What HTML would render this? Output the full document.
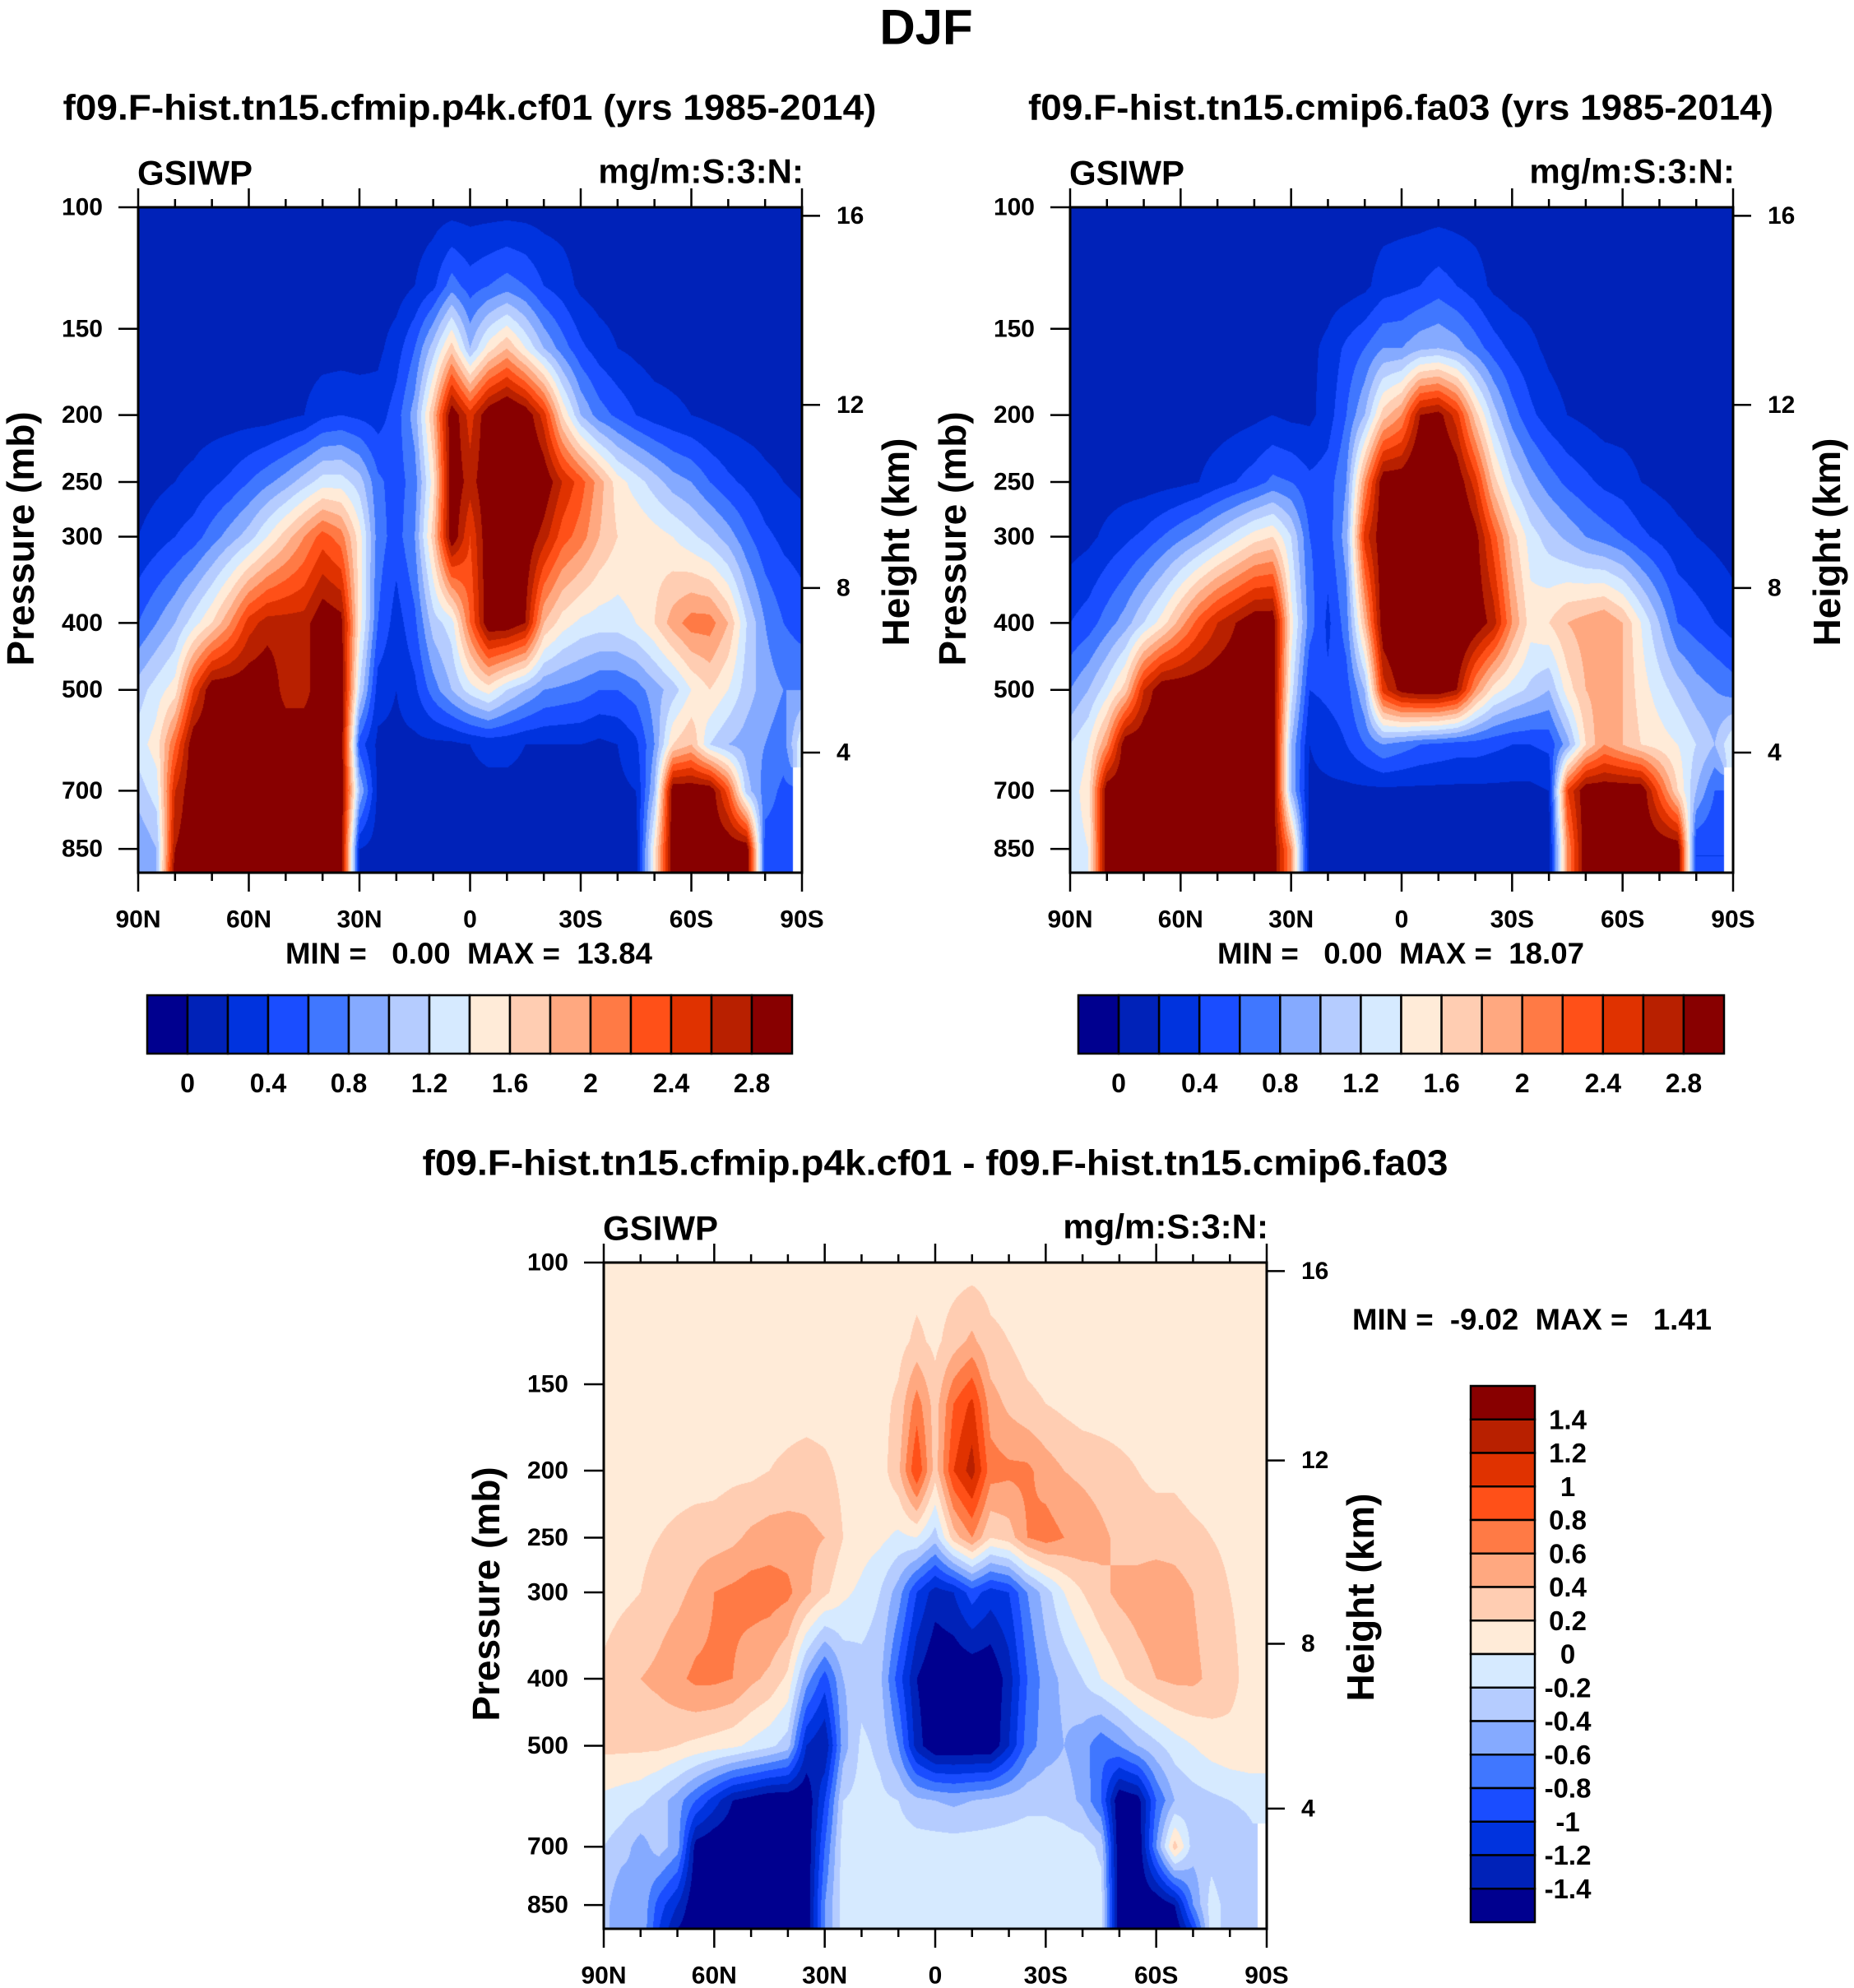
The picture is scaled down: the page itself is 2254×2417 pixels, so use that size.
<!DOCTYPE html>
<html><head><meta charset="utf-8"><title>DJF GSIWP</title>
<style>
html,body{margin:0;padding:0;background:#fff;}
#wrap{position:relative;width:2254px;height:2417px;overflow:hidden;background:#fff;}
canvas{position:absolute;}
svg{position:absolute;left:0;top:0;}
text{font-family:"Liberation Sans",Arial,sans-serif;font-weight:bold;fill:#000;white-space:pre;}
</style></head>
<body>
<div id="wrap">
<canvas id="c1" style="left:168px;top:252px" width="807" height="809"></canvas>
<canvas id="c2" style="left:1301px;top:252px" width="806" height="809"></canvas>
<canvas id="c3" style="left:734px;top:1535px" width="806" height="810"></canvas>
<svg id="ov" width="2254" height="2417"></svg>
</div>
<script>
// ---- data ----
const lats = [90,85,80,75,70,65,60,55,50,45,40,35,30,25,20,15,10,5,0,-5,-10,-15,-20,-25,-30,-35,-40,-45,-50,-55,-60,-65,-70,-75,-80,-85,-90];
const levels = [100,130,160,200,250,300,400,500,600,700,850,920];
const mainTicks = ["0","0.4","0.8","1.2","1.6","2","2.4","2.8"];
const diffTicks = ["1.4","1.2","1","0.8","0.6","0.4","0.2","0","-0.2","-0.4","-0.6","-0.8","-1","-1.2","-1.4"];
const latLabels = ["90N","60N","30N","0","30S","60S","90S"];
const presLabels = [100,150,200,250,300,400,500,700,850];
const heightLabels = [16,12,8,4];

const p1 = [
[0.1,0.1,0.1,0.1,0.1,0.1,0.1,0.1,0.1,0.1,0.1,0.1,0.1,0.1,0.1,0.1,0.1,0.1,0.1,0.1,0.1,0.1,0.1,0.1,0.1,0.1,0.1,0.1,0.1,0.1,0.1,0.1,0.1,0.1,0.1,0.1,0.1],
[0.1,0.1,0.1,0.1,0.1,0.1,0.1,0.1,0.1,0.1,0.1,0.1,0.1,0.1,0.1,0.2,0.35,0.7,0.5,0.6,0.7,0.6,0.4,0.3,0.15,0.1,0.1,0.1,0.1,0.1,0.1,0.1,0.1,0.1,0.1,0.1,0.1],
[0.1,0.1,0.1,0.1,0.1,0.1,0.1,0.1,0.1,0.1,0.1,0.1,0.1,0.15,0.3,0.6,1.1,1.7,1.0,1.5,1.8,1.4,1.0,0.7,0.45,0.3,0.2,0.15,0.1,0.1,0.1,0.1,0.1,0.1,0.1,0.1,0.1],
[0.1,0.1,0.1,0.1,0.1,0.1,0.1,0.1,0.15,0.2,0.35,0.4,0.35,0.3,0.5,0.9,1.8,3.0,2.5,3.0,3.2,3.0,2.5,1.6,1.0,0.7,0.55,0.4,0.3,0.25,0.2,0.15,0.12,0.1,0.1,0.1,0.1],
[0.1,0.15,0.2,0.25,0.35,0.45,0.6,0.75,0.9,1.1,1.3,1.3,1.1,0.65,0.5,0.7,1.5,3.0,2.7,3.0,3.2,3.2,3.0,2.6,2.3,1.9,1.5,1.3,1.1,0.9,0.8,0.6,0.45,0.35,0.25,0.2,0.15],
[0.2,0.3,0.4,0.5,0.7,0.9,1.1,1.4,1.7,2.0,2.3,2.1,1.5,0.7,0.5,0.8,1.7,3.0,2.4,3.0,3.2,3.0,2.7,2.3,2.1,1.8,1.6,1.6,1.5,1.4,1.25,1.1,0.9,0.65,0.45,0.35,0.3],
[0.6,0.8,1.0,1.3,1.6,2.0,2.5,2.7,2.7,2.7,3.0,2.9,1.5,0.6,0.3,0.55,1.1,1.3,2.2,3.0,3.0,2.8,1.8,1.5,1.35,1.3,1.3,1.4,1.6,1.9,2.1,2.1,1.8,1.2,0.8,0.6,0.5],
[1.1,1.3,1.5,2.4,3.0,3.0,3.0,3.0,2.7,2.7,3.0,3.0,1.2,0.3,0.2,0.35,0.7,1.0,1.3,1.5,1.2,1.0,0.8,0.75,0.7,0.6,0.6,0.7,0.9,1.1,1.4,1.6,1.4,1.1,0.9,0.8,0.8],
[1.3,1.5,2.2,3.0,3.0,3.0,3.0,3.0,3.0,3.0,3.0,3.0,0.5,0.15,0.15,0.15,0.15,0.15,0.2,0.25,0.25,0.2,0.2,0.2,0.2,0.15,0.2,0.35,0.8,1.6,1.8,1.2,1.0,0.9,0.8,0.7,1.4],
[1.1,1.3,2.6,3.0,3.0,3.0,3.0,3.0,3.0,3.0,3.0,3.0,1.0,0.15,0.15,0.15,0.15,0.15,0.15,0.15,0.15,0.15,0.15,0.15,0.15,0.15,0.15,0.2,1.0,3.0,3.0,3.0,2.3,1.1,0.7,0.55,null],
[0.8,1.0,2.8,3.0,3.0,3.0,3.0,3.0,3.0,3.0,3.0,3.0,0.2,0.1,0.1,0.1,0.1,0.1,0.1,0.1,0.1,0.1,0.1,0.1,0.1,0.1,0.1,0.1,1.5,3.0,3.0,3.0,3.0,3.0,0.5,0.5,null],
[0.8,1.0,3.0,3.0,3.0,3.0,3.0,3.0,3.0,3.0,3.0,3.0,0.2,0.1,0.1,0.1,0.1,0.1,0.1,0.1,0.1,0.1,0.1,0.1,0.1,0.1,0.1,0.1,1.5,3.0,3.0,3.0,3.0,3.0,0.5,0.5,null]
];
const p2 = [
[0.1,0.1,0.1,0.1,0.1,0.1,0.1,0.1,0.1,0.1,0.1,0.1,0.1,0.1,0.1,0.1,0.1,0.1,0.1,0.1,0.1,0.1,0.1,0.1,0.1,0.1,0.1,0.1,0.1,0.1,0.1,0.1,0.1,0.1,0.1,0.1,0.1],
[0.1,0.1,0.1,0.1,0.1,0.1,0.1,0.1,0.1,0.1,0.1,0.1,0.1,0.1,0.1,0.1,0.15,0.3,0.35,0.4,0.5,0.4,0.3,0.15,0.1,0.1,0.1,0.1,0.1,0.1,0.1,0.1,0.1,0.1,0.1,0.1,0.1],
[0.1,0.1,0.1,0.1,0.1,0.1,0.1,0.1,0.1,0.1,0.1,0.1,0.1,0.15,0.25,0.45,0.6,0.8,0.8,0.95,1.0,0.9,0.7,0.5,0.35,0.25,0.15,0.1,0.1,0.1,0.1,0.1,0.1,0.1,0.1,0.1,0.1],
[0.1,0.1,0.1,0.1,0.1,0.1,0.1,0.1,0.1,0.12,0.15,0.2,0.15,0.15,0.3,0.6,1.0,1.7,2.0,2.8,2.9,2.5,1.7,1.1,0.7,0.45,0.3,0.2,0.15,0.1,0.1,0.1,0.1,0.1,0.1,0.1,0.1],
[0.1,0.1,0.1,0.1,0.1,0.12,0.15,0.2,0.3,0.4,0.5,0.65,0.6,0.45,0.5,0.8,2.0,3.0,3.0,3.2,3.2,3.0,2.5,1.7,1.2,0.9,0.7,0.55,0.45,0.35,0.3,0.2,0.15,0.12,0.1,0.1,0.1],
[0.1,0.15,0.25,0.35,0.45,0.6,0.75,0.9,1.1,1.3,1.5,1.6,1.2,0.6,0.5,0.9,2.5,3.0,3.2,3.2,3.2,3.2,2.9,2.3,1.7,1.3,1.1,0.95,0.8,0.7,0.6,0.45,0.35,0.25,0.2,0.15,0.1],
[0.4,0.5,0.7,0.9,1.2,1.5,1.9,2.3,2.6,2.8,3.0,3.0,1.5,0.7,0.35,0.7,1.8,3.0,3.2,3.2,3.2,3.2,3.0,2.7,2.0,1.5,1.6,1.8,1.9,2.0,1.8,1.4,1.0,0.6,0.5,0.4,0.3],
[0.8,1.0,1.3,1.7,2.6,3.0,3.0,3.0,3.0,3.0,3.0,3.0,1.3,0.4,0.45,0.5,1.0,2.5,2.9,3.0,3.0,2.8,2.0,1.5,1.3,1.15,1.0,1.5,1.8,1.9,1.8,1.5,1.3,1.1,0.9,0.8,0.7],
[1.2,1.4,2.0,3.0,3.0,3.0,3.0,3.0,3.0,3.0,3.0,3.0,1.0,0.2,0.3,0.4,0.6,0.8,0.7,0.6,0.55,0.5,0.5,0.45,0.4,0.4,0.45,0.9,1.6,2.0,1.8,1.6,1.5,1.4,1.2,1.0,1.4],
[1.3,1.5,3.0,3.0,3.0,3.0,3.0,3.0,3.0,3.0,3.0,3.0,1.0,0.15,0.15,0.15,0.15,0.15,0.15,0.15,0.15,0.15,0.15,0.15,0.15,0.15,0.2,2.4,3.0,3.0,3.0,3.0,2.3,1.6,1.0,0.6,null],
[1.3,1.4,3.0,3.0,3.0,3.0,3.0,3.0,3.0,3.0,3.0,3.0,2.0,0.1,0.1,0.1,0.1,0.1,0.1,0.1,0.1,0.1,0.1,0.1,0.1,0.1,0.1,2.0,3.0,3.0,3.0,3.0,3.0,3.0,0.4,0.4,null],
[1.3,1.4,3.0,3.0,3.0,3.0,3.0,3.0,3.0,3.0,3.0,3.0,2.0,0.1,0.1,0.1,0.1,0.1,0.1,0.1,0.1,0.1,0.1,0.1,0.1,0.1,0.1,2.0,3.0,3.0,3.0,3.0,3.0,3.0,0.4,0.4,null]
];
const dif = [
[0.1,0.1,0.1,0.1,0.1,0.1,0.1,0.1,0.1,0.1,0.1,0.1,0.1,0.1,0.1,0.1,0.1,0.1,0.1,0.1,0.1,0.1,0.1,0.1,0.1,0.1,0.1,0.1,0.1,0.1,0.1,0.1,0.1,0.1,0.1,0.1,0.1],
[0.1,0.1,0.1,0.1,0.1,0.1,0.1,0.1,0.1,0.1,0.1,0.1,0.1,0.1,0.1,0.1,0.12,0.25,0.15,0.3,0.45,0.25,0.2,0.12,0.1,0.1,0.1,0.1,0.1,0.1,0.1,0.1,0.1,0.1,0.1,0.1,0.1],
[0.1,0.1,0.1,0.1,0.1,0.1,0.1,0.1,0.1,0.1,0.1,0.1,0.1,0.1,0.1,0.12,0.25,0.7,0.3,0.8,1.05,0.5,0.35,0.25,0.2,0.15,0.1,0.1,0.1,0.1,0.1,0.1,0.1,0.1,0.1,0.1,0.1],
[0.1,0.1,0.1,0.1,0.1,0.1,0.12,0.15,0.15,0.2,0.25,0.3,0.25,0.15,0.1,0.1,0.35,1.0,0.3,1.0,1.3,0.7,0.65,0.65,0.5,0.4,0.35,0.3,0.25,0.2,0.15,0.15,0.1,0.1,0.1,0.1,0.1],
[0.1,0.1,0.15,0.2,0.25,0.3,0.3,0.35,0.45,0.5,0.5,0.45,0.4,0.2,0.1,0.05,-0.05,0.0,-0.3,0.3,0.6,0.2,0.3,0.6,0.7,0.6,0.55,0.45,0.35,0.3,0.3,0.3,0.25,0.2,0.15,0.1,0.1],
[0.1,0.15,0.2,0.3,0.35,0.45,0.6,0.65,0.7,0.7,0.65,0.45,0.25,0.05,-0.05,-0.2,-0.5,-1.0,-1.3,-1.2,-0.9,-1.1,-1.0,-0.6,-0.3,0.0,0.2,0.35,0.45,0.5,0.55,0.5,0.4,0.3,0.2,0.15,0.15],
[0.25,0.35,0.4,0.45,0.55,0.65,0.65,0.6,0.45,0.35,0.15,-0.5,-0.9,-0.4,-0.3,-0.35,-0.9,-1.4,-1.6,-1.6,-1.6,-1.6,-1.3,-0.8,-0.5,-0.35,-0.2,0.0,0.15,0.3,0.4,0.45,0.45,0.35,0.25,0.15,0.1],
[0.25,0.25,0.25,0.25,0.2,0.15,0.1,0.05,-0.05,-0.15,-0.3,-1.2,-1.4,-0.5,-0.15,-0.25,-0.6,-1.3,-1.6,-1.6,-1.6,-1.6,-1.2,-0.7,-0.5,-0.4,-0.5,-0.75,-0.6,-0.4,-0.25,-0.1,0.0,0.1,0.15,0.15,0.1],
[-0.05,-0.1,-0.15,-0.3,-0.5,-0.8,-1.1,-1.4,-1.5,-1.6,-1.6,-1.6,-1.0,-0.2,-0.12,-0.15,-0.2,-0.35,-0.4,-0.45,-0.4,-0.35,-0.3,-0.25,-0.25,-0.3,-0.45,-0.8,-1.6,-1.5,-0.8,-0.4,-0.3,-0.25,-0.2,-0.15,-0.1],
[-0.2,-0.3,-0.5,-0.3,-0.5,-1.5,-1.6,-1.6,-1.6,-1.6,-1.6,-1.6,-0.8,-0.1,-0.1,-0.1,-0.1,-0.1,-0.1,-0.1,-0.1,-0.1,-0.1,-0.1,-0.1,-0.1,-0.1,-0.25,-1.6,-1.6,-0.6,0.3,-0.3,-0.3,-0.4,-0.3,null],
[-0.3,-0.6,-0.4,-0.9,-1.2,-1.6,-1.6,-1.6,-1.6,-1.6,-1.6,-1.6,-0.6,-0.1,-0.1,-0.1,-0.1,-0.1,-0.1,-0.1,-0.1,-0.1,-0.1,-0.1,-0.1,-0.1,-0.1,-0.1,-1.6,-1.6,-1.6,-1.4,-0.6,-0.1,-0.3,-0.2,null],
[-0.3,-0.6,-0.4,-1.0,-1.4,-1.6,-1.6,-1.6,-1.6,-1.6,-1.6,-1.6,-0.6,-0.1,-0.1,-0.1,-0.1,-0.1,-0.1,-0.1,-0.1,-0.1,-0.1,-0.1,-0.1,-0.1,-0.1,-0.1,-1.6,-1.6,-1.6,-1.6,-1.0,-0.1,-0.3,-0.2,null]
];

// ---- style ----
const palette = ["#00008f","#0022b8","#0033de","#1a4dff","#4077ff","#85aaff","#b5ccff","#d6eaff","#ffebd8","#ffcdb2","#ffa880","#ff7a45","#ff5018","#e03200","#b82000","#880000"];
const PB = Math.log10(920)-2;
function hexRgb(h){return [parseInt(h.substr(1,2),16),parseInt(h.substr(3,2),16),parseInt(h.substr(5,2),16)];}
const palRgb = palette.map(hexRgb);
const levLog = levels.map(p=>Math.log10(p)-2);

function render(id, grid, lo, step){
  const cv=document.getElementById(id), W=cv.width, H=cv.height, ctx=cv.getContext('2d');
  const img=ctx.createImageData(W,H), d=img.data;
  for(let py=0;py<H;py++){
    const lg=(py+0.5)/H*PB;
    let r=0; while(r<levLog.length-2 && lg>levLog[r+1]) r++;
    let ty=(lg-levLog[r])/(levLog[r+1]-levLog[r]); ty=Math.max(0,Math.min(1,ty));
    for(let px=0;px<W;px++){
      const fx=(px+0.5)/W*(lats.length-1);
      let c=Math.min(lats.length-2,Math.floor(fx)); const tx=fx-c;
      const a=grid[r][c],b=grid[r][c+1],e=grid[r+1][c],f=grid[r+1][c+1];
      const o=(py*W+px)*4;
      const near=grid[ty<0.5?r:r+1][tx<0.5?c:c+1];
      if(near===null){d[o]=255;d[o+1]=255;d[o+2]=255;d[o+3]=255;continue;}
      const A=a===null?near:a,B=b===null?near:b,E=e===null?near:e,F=f===null?near:f;
      const v=(A*(1-tx)+B*tx)*(1-ty)+(E*(1-tx)+F*tx)*ty;
      let k=Math.floor((v-lo)/step)+1; k=Math.max(0,Math.min(15,k));
      const col=palRgb[k]; d[o]=col[0];d[o+1]=col[1];d[o+2]=col[2];d[o+3]=255;
    }
  }
  ctx.putImageData(img,0,0);
}
render('c1',p1,0,0.2);
render('c2',p2,0,0.2);
render('c3',dif,-1.4,0.2);

// ---- overlay ----
const NS="http://www.w3.org/2000/svg", svg=document.getElementById('ov');
function el(tag,attrs,parent){const e=document.createElementNS(NS,tag);for(const k in attrs)e.setAttribute(k,attrs[k]);(parent||svg).appendChild(e);return e;}
function txt(s,x,y,size,anchor,parent,extra){const t=el('text',Object.assign({x:x,y:y,'font-size':size,'text-anchor':anchor||'middle','dominant-baseline':'central'},extra||{}),parent);t.textContent=s;return t;}
function presY(p,y0,H){return y0+H*(Math.log10(p)-2)/PB;}
function kmToP(z){z*=1000;if(z<=11000)return 1013.25*Math.pow(1-2.25577e-5*z,5.2559);return 226.32*Math.exp(-(z-11000)/6341.6);}

function panel(name,x0,y0,W,H){
  const g=el('g',{});
  
  
  const lx=v=>x0+W*(90-v)/180;
  for(let v=90;v>=-90;v-=10){
    const major=(v%30===0), len=major?23:10, X=lx(v);
    el('line',{x1:X,y1:y0,x2:X,y2:y0-len,stroke:'#000','stroke-width':2.5},g);
    el('line',{x1:X,y1:y0+H,x2:X,y2:y0+H+len,stroke:'#000','stroke-width':2.5},g);
  }
  latLabels.forEach((s,i)=>{const t=txt(s,x0+W*i/6,y0+H+57,30,'middle',g);
    
    });
  presLabels.forEach(p=>{const Y=presY(p,y0,H);
    el('line',{x1:x0-24,y1:Y,x2:x0,y2:Y,stroke:'#000','stroke-width':2.5},g);
    const t=txt(String(p),x0-43,Y,30,'end',g);
    
    });
  heightLabels.forEach(z=>{const Y=presY(kmToP(z),y0,H);
    el('line',{x1:x0+W,y1:Y,x2:x0+W+22,y2:Y,stroke:'#000','stroke-width':2.5},g);
    const t=txt(String(z),x0+W+42,Y,30,'start',g);
    
    });
  el('rect',{x:x0,y:y0,width:W,height:H,fill:'none',stroke:'#000','stroke-width':3},g);
  const a=txt('GSIWP',x0-1,y0-42,42,'start',g);
  
  
  const u=txt('mg/m:S:3:N:',x0+W+2,y0-44,42,'end',g);
  
  
  const py=txt('Pressure (mb)',0,0,46,'middle',g,{transform:`translate(${x0-143},${y0+403}) rotate(-90)`});
  
  
  const hy=txt('Height (km)',0,0,46,'middle',g,{transform:`translate(${x0+W+114},${y0+407}) rotate(-90)`});
  
  
}
panel('cfmip',168,252,807,809);
panel('cmip6',1301,252,806,809);
panel('diff',734,1535,806,810);

function hbar(name,x0,y0,W,H){
  const g=el('g',{});
  
  
  const bw=W/16;
  palette.forEach((c,i)=>{el('rect',{x:x0+i*bw,y:y0,width:bw,height:H,fill:c,stroke:'#000','stroke-width':2.5},g);});
  mainTicks.forEach((s,i)=>{const t=txt(s,x0+bw*(1+2*i),y0+H+36,32,'middle',g);
    
    });
}
hbar('colorbar-cfmip',179,1210,784,71);
hbar('colorbar-cmip6',1311,1210,785,71);
(function(){
  const g=el('g',{});
  
  
  const x0=1788,y0=1685,W=78,H=652,bh=H/16;
  palette.slice().reverse().forEach((c,i)=>{el('rect',{x:x0,y:y0+i*bh,width:W,height:bh,fill:c,stroke:'#000','stroke-width':2.5},g);});
  diffTicks.forEach((s,i)=>{const t=txt(s,1906,y0+bh*(i+1),33,'middle',g);
    
    });
})();

const titles=[
 ['DJF',1126,33,60,null,'figure-title'],
 ['f09.F-hist.tn15.cfmip.p4k.cf01 (yrs 1985-2014)',571,131,44,989,'panel-title-cfmip'],
 ['f09.F-hist.tn15.cmip6.fa03 (yrs 1985-2014)',1703,131,44,906,'panel-title-cmip6'],
 ['f09.F-hist.tn15.cfmip.p4k.cf01 - f09.F-hist.tn15.cmip6.fa03',1137,1414,44,1247,'panel-title-diff']
];
titles.forEach(t=>{const e=txt(t[0],t[1],t[2],t[3],'middle',null,t[4]?{textLength:t[4],lengthAdjust:'spacingAndGlyphs'}:{});
  
  });
const mm=[
 ['MIN =   0.00  MAX =  13.84',347,1159,446,'minmax-cfmip'],
 ['MIN =   0.00  MAX =  18.07',1480,1159,446,'minmax-cmip6'],
 ['MIN =  -9.02  MAX =   1.41',1644,1604,437,'minmax-diff']
];
mm.forEach(m=>{const e=txt(m[0],m[1],m[2],36,'start',null,{textLength:m[3],lengthAdjust:'spacingAndGlyphs'});
  
  });
</script>
</body></html>
